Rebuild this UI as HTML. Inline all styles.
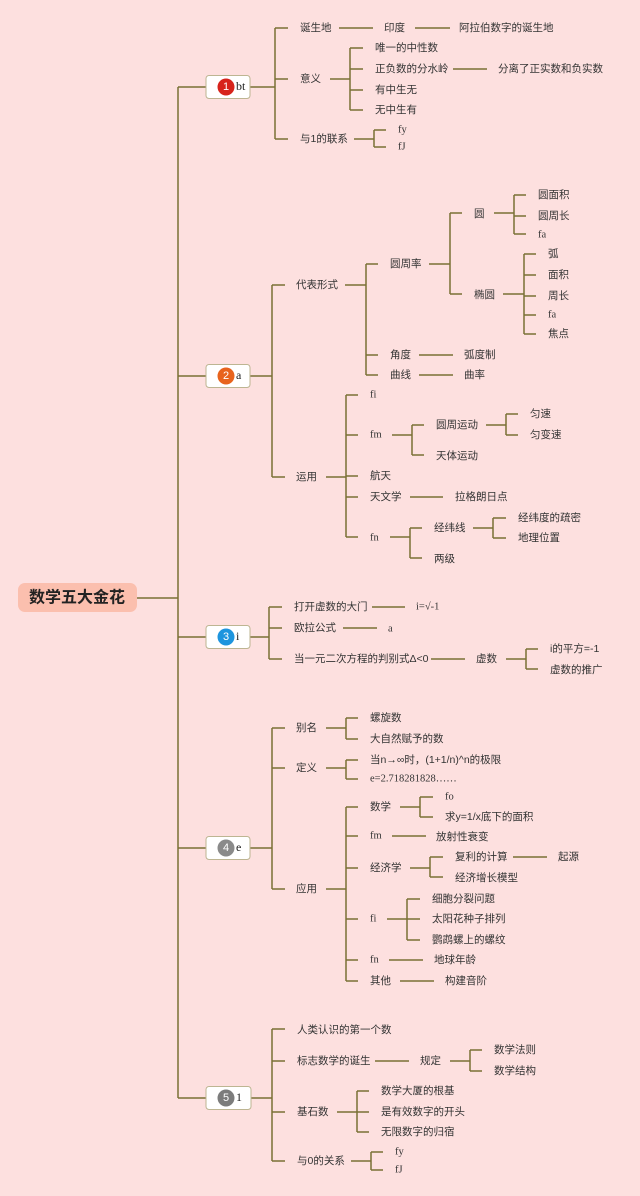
<!DOCTYPE html>
<html><head><meta charset="utf-8"><style>
html,body{margin:0;padding:0;background:#fde0df;}
svg{display:block}
text{font-family:"Liberation Sans","Noto Sans CJK SC",sans-serif;font-size:10.5px;fill:#333;dominant-baseline:central}
.s{font-family:"Liberation Serif","Noto Serif CJK SC",serif;}
.b{font-family:"Liberation Serif",serif;font-size:12px;fill:#222}
</style></head><body>
<svg width="640" height="1196" viewBox="0 0 640 1196" xmlns="http://www.w3.org/2000/svg">
<rect width="640" height="1196" fill="#fde0df"/>
<g fill="none" stroke="#7a7035" stroke-width="1.5">
<path d="M178 87V1098M137 598H178M178 87H206M178 376H206M178 637H206M178 848H206M178 1098H206"/>
<!-- s1 -->
<path d="M250 87H275M275 28V139M275 28H288M275 79H288M275 139H288M339 28H373M415 28H450M330 79H350M350 48V110M350 48H363M350 69H363M350 90H363M350 110H363M453 69H487M354 139H374M374 130V147M374 130H386M374 147H386"/>
<!-- s2 -->
<path d="M250 376H272M272 285V477M272 285H285M272 477H285M345 285H366M366 264V375M366 264H378M366 355H378M366 375H378M429 264H450M450 213V294M450 213H462M450 294H462M494 213H514M514 195V234M514 195H526M514 216H526M514 234H526M503 294H524M524 254V334M524 254H536M524 275H536M524 296H536M524 315H536M524 334H536M419 355H453M419 375H453M326 477H346M346 395V537M346 395H358M346 435H358M346 476H358M346 497H358M346 537H358M392 435H412M412 425V455M412 425H424M412 455H424M486 425H506M506 414V435M506 414H518M506 435H518M410 497H443M390 537H410M410 528V558M410 528H422M410 558H422M473 528H493M493 518V538M493 518H506M493 538H506"/>
<!-- s3 -->
<path d="M250 637H269M269 607V659M269 607H282M269 628H282M269 659H282M372 607H405M343 628H377M431 659H465M506 659H526M526 649V669M526 649H538M526 669H538"/>
<!-- s4 -->
<path d="M250 848H272M272 728V889M272 728H285M272 768H285M272 889H285M326 728H346M346 718V739M346 718H358M346 739H358M326 768H346M346 760V779M346 760H358M346 779H358M326 889H346M346 807V981M346 807H358M346 836H358M346 868H358M346 919H358M346 960H358M346 981H358M400 807H420M420 797V817M420 797H433M420 817H433M392 836H426M410 868H430M430 857V877M430 857H443M430 877H443M513 857H547M387 919H407M407 899V940M407 899H420M407 919H420M407 940H420M389 960H423M400 981H434"/>
<!-- s5 -->
<path d="M251 1098H272M272 1029V1161M272 1029H285M272 1061H285M272 1112H285M272 1161H285M375 1061H409M450 1061H470M470 1050V1071M470 1050H482M470 1071H482M337 1112H357M357 1091V1132M357 1091H369M357 1112H369M357 1132H369M351 1161H371M371 1152V1170M371 1152H383M371 1170H383"/>
</g>
<!-- root -->
<rect x="18" y="583" width="119" height="29" rx="7" fill="#fbbfae"/>
<text x="77" y="598" text-anchor="middle" style="font-size:16px;font-weight:bold;fill:#222">数学五大金花</text>
<!-- boxes -->
<g fill="#fff" stroke="#bdb592" stroke-width="1">
<rect x="206" y="75.5" width="44" height="23" rx="3"/>
<rect x="206" y="364.5" width="44" height="23" rx="3"/>
<rect x="206" y="625.5" width="44" height="23" rx="3"/>
<rect x="206" y="836.5" width="44" height="23" rx="3"/>
<rect x="206" y="1086.5" width="45" height="23" rx="3"/>
</g>
<circle cx="226" cy="87" r="8.5" fill="#d7231b"/><text x="226" y="87" text-anchor="middle" style="fill:#fff;font-size:11px">1</text><text class="b" x="236" y="86">bt</text>
<circle cx="226" cy="376" r="8.5" fill="#e8631d"/><text x="226" y="376" text-anchor="middle" style="fill:#fff;font-size:11px">2</text><text class="b" x="236" y="375">a</text>
<circle cx="226" cy="637" r="8.5" fill="#1e95de"/><text x="226" y="637" text-anchor="middle" style="fill:#fff;font-size:11px">3</text><text class="b" x="236" y="636">i</text>
<circle cx="226" cy="848" r="8.5" fill="#8a8a8a"/><text x="226" y="848" text-anchor="middle" style="fill:#fff;font-size:11px">4</text><text class="b" x="236" y="847">e</text>
<circle cx="226" cy="1098" r="8.5" fill="#7c7c7c"/><text x="226" y="1098" text-anchor="middle" style="fill:#fff;font-size:11px">5</text><text class="b" x="236" y="1097">1</text>
<!-- s1 text -->
<text x="300" y="28">诞生地</text><text x="384" y="28">印度</text><text x="459" y="28">阿拉伯数字的诞生地</text>
<text x="300" y="79">意义</text><text x="375" y="48">唯一的中性数</text><text x="375" y="69">正负数的分水岭</text><text x="498" y="69">分离了正实数和负实数</text><text x="375" y="90">有中生无</text><text x="375" y="110">无中生有</text>
<text x="300" y="139">与1的联系</text><text class="s" x="398" y="130">fy</text><text class="s" x="398" y="147">fJ</text>
<!-- s2 text -->
<text x="296" y="285">代表形式</text><text x="390" y="264">圆周率</text><text x="474" y="214">圆</text>
<text x="538" y="195">圆面积</text><text x="538" y="216">圆周长</text><text class="s" x="538" y="235">fa</text>
<text x="474" y="295">椭圆</text><text x="548" y="254">弧</text><text x="548" y="275">面积</text><text x="548" y="296">周长</text><text class="s" x="548" y="315">fa</text><text x="548" y="334">焦点</text>
<text x="390" y="355">角度</text><text x="464" y="355">弧度制</text><text x="390" y="375">曲线</text><text x="464" y="375">曲率</text>
<text x="296" y="477">运用</text><text class="s" x="370" y="395">fi</text><text class="s" x="370" y="435">fm</text>
<text x="436" y="425">圆周运动</text><text x="530" y="414">匀速</text><text x="530" y="435">匀变速</text><text x="436" y="456">天体运动</text>
<text x="370" y="476">航天</text><text x="370" y="497">天文学</text><text x="455" y="497">拉格朗日点</text>
<text class="s" x="370" y="538">fn</text><text x="434" y="528">经纬线</text><text x="518" y="518">经纬度的疏密</text><text x="518" y="538">地理位置</text><text x="434" y="559">两级</text>
<!-- s3 text -->
<text x="294" y="607">打开虚数的大门</text><text class="s" x="416" y="607">i=√-1</text>
<text x="294" y="628">欧拉公式</text><text class="s" x="388" y="629">a</text>
<text x="294" y="659">当一元二次方程的判别式Δ&lt;0</text><text x="476" y="659">虚数</text><text x="550" y="649">i的平方=-1</text><text x="550" y="670">虚数的推广</text>
<!-- s4 text -->
<text x="296" y="728">别名</text><text x="370" y="718">螺旋数</text><text x="370" y="739">大自然赋予的数</text>
<text x="296" y="768">定义</text><text x="370" y="760">当n→∞时，(1+1/n)^n的极限</text><text class="s" x="370" y="779">e=2.718281828……</text>
<text x="296" y="889">应用</text><text x="370" y="807">数学</text><text class="s" x="445" y="797">fo</text><text x="445" y="817">求y=1/x底下的面积</text>
<text class="s" x="370" y="836">fm</text><text x="436" y="837">放射性衰变</text>
<text x="370" y="868">经济学</text><text x="455" y="857">复利的计算</text><text x="558" y="857">起源</text><text x="455" y="878">经济增长模型</text>
<text class="s" x="370" y="919">fi</text><text x="432" y="899">细胞分裂问题</text><text x="432" y="919">太阳花种子排列</text><text x="432" y="940">鹦鹉螺上的螺纹</text>
<text class="s" x="370" y="960">fn</text><text x="434" y="960">地球年龄</text>
<text x="370" y="981">其他</text><text x="445" y="981">构建音阶</text>
<!-- s5 text -->
<text x="297" y="1030">人类认识的第一个数</text>
<text x="297" y="1061">标志数学的诞生</text><text x="420" y="1061">规定</text><text x="494" y="1050">数学法则</text><text x="494" y="1071">数学结构</text>
<text x="297" y="1112">基石数</text><text x="381" y="1091">数学大厦的根基</text><text x="381" y="1112">是有效数字的开头</text><text x="381" y="1132">无限数字的归宿</text>
<text x="297" y="1161">与0的关系</text><text class="s" x="395" y="1152">fy</text><text class="s" x="395" y="1170">fJ</text>
</svg>
</body></html>
